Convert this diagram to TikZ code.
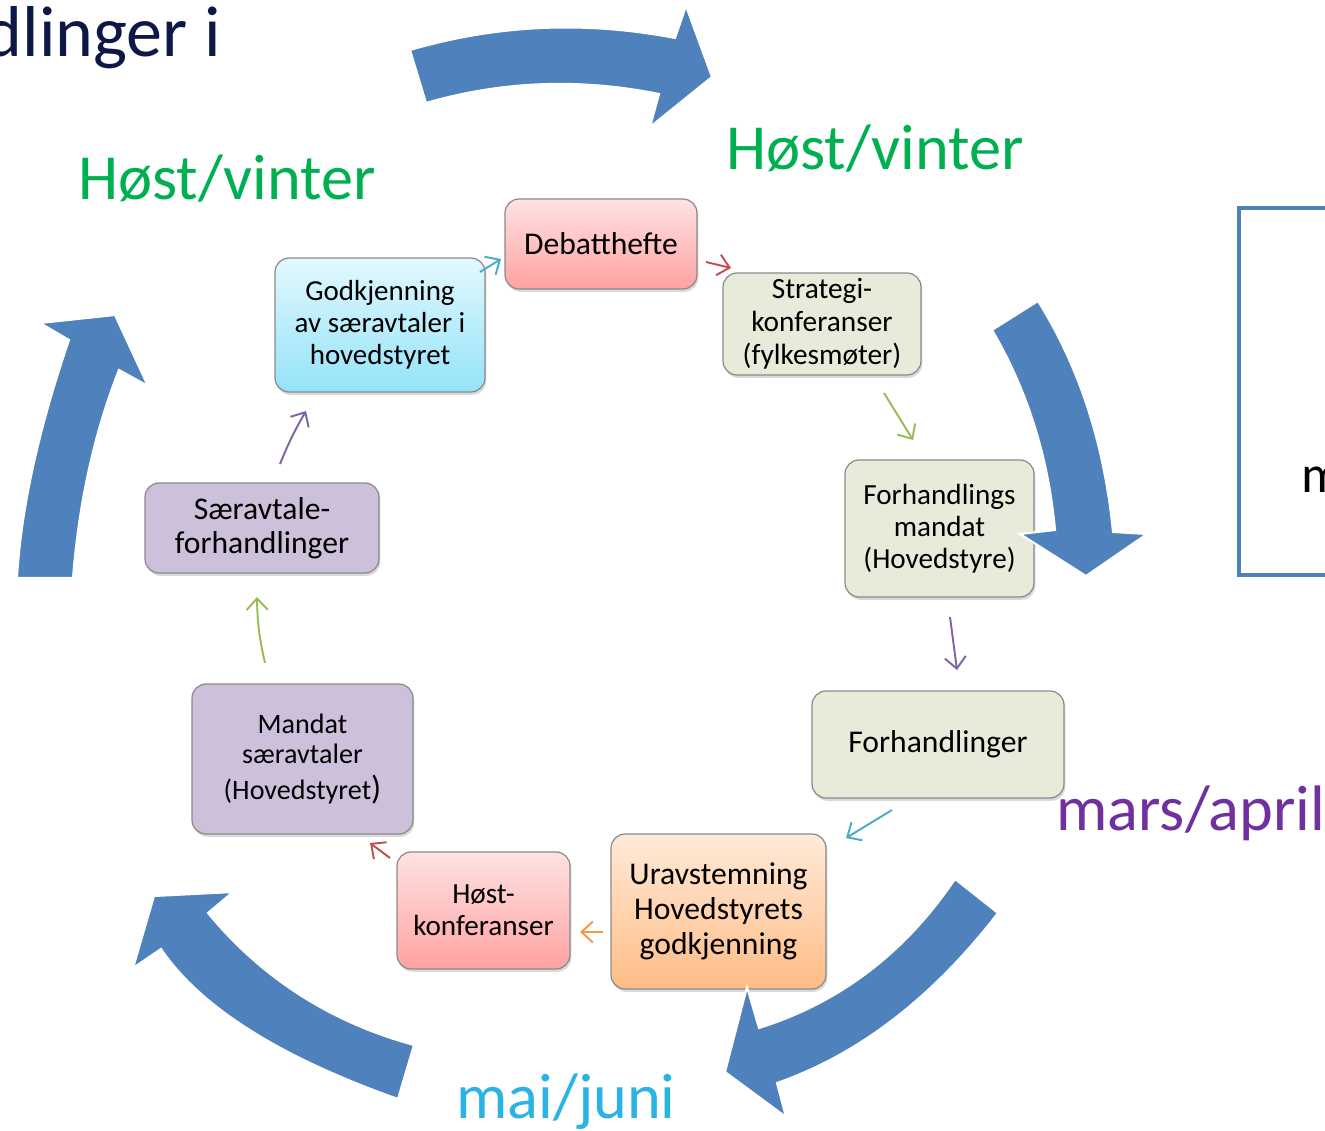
\documentclass[tikz,border=0pt]{standalone}
\usepackage{fontspec}
\setmainfont{Carlito}
\usetikzlibrary{arrows.meta,shadows}
\definecolor{bigblue}{HTML}{4F81BD}
\definecolor{navy}{HTML}{0D1846}
\definecolor{grn}{HTML}{00B050}
\definecolor{purp}{HTML}{7030A0}
\definecolor{sky}{HTML}{2DB2E4}
\definecolor{boxborder}{HTML}{8A8A8A}
\definecolor{pinkT}{HTML}{FFE2E2}
\definecolor{pinkB}{HTML}{FFA2A2}
\definecolor{greenbox}{HTML}{E6ECD9}
\definecolor{orangeT}{HTML}{FFEAD8}
\definecolor{orangeB}{HTML}{FFBC86}
\definecolor{purplebox}{HTML}{CCC0DA}
\definecolor{blueT}{HTML}{E2F8FE}
\definecolor{blueB}{HTML}{94E3F9}
\definecolor{cCyan}{HTML}{4BACC6}
\definecolor{cRed}{HTML}{C0504D}
\definecolor{cGreen}{HTML}{9BBB59}
\definecolor{cPurple}{HTML}{8064A2}
\definecolor{cOrange}{HTML}{F79646}
\begin{document}
\begin{tikzpicture}[x=0.02cm,y=-0.02cm,
  box/.style={draw=boxborder, line width=0.7pt, rounded corners=0.28cm, align=center, inner sep=0pt,
    drop shadow={opacity=0.3, shadow xshift=0.8pt, shadow yshift=-1.6pt}},
  pinkbox/.style={box, top color=pinkT, bottom color=pinkB},
  greenb/.style={box, fill=greenbox},
  orangebox/.style={box, top color=orangeT, bottom color=orangeB},
  purplebx/.style={box, fill=purplebox},
  bluebox/.style={box, top color=blueT, bottom color=blueB},
  conn/.style={line width=1.1pt, -{Straight Barb[length=6.5pt,width=12pt]}},
  bigarrow/.style={fill=bigblue, draw=white, line width=1.2pt},
  season/.style={anchor=base west, inner sep=0pt, font=\fontsize{36.6}{40}\selectfont}
]
\useasboundingbox (0,0) rectangle (1325,1131);

% title fragment
\node[anchor=base east, inner sep=0pt, text=navy, font=\fontsize{41}{45}\selectfont] (title) at (221,57) {dlinger i};

% right frame
\draw[bigblue, line width=2.2pt] (1345,208) -- (1239,208) -- (1239,575) -- (1345,575);
\node[anchor=base west, inner sep=0pt, font=\fontsize{30}{34}\selectfont] (mfrag) at (1301,493) {m};

% season labels
\node[season, text=grn] (hv1) at (78,200) {Høst/vinter};
\node[season, text=grn] (hv2) at (726,170) {Høst/vinter};
\node[season, text=purp] (ma) at (1056,830) {mars/april};
\node[season, text=sky] (mj) at (456,1118) {mai/juni};

% boxes
\node[pinkbox, minimum width=3.84cm, minimum height=1.80cm, font=\fontsize{18}{19}\selectfont] (deb) at (601,244) {Debatthefte};
\node[greenb, minimum width=3.96cm, minimum height=2.04cm, font=\fontsize{16.7}{18.7}\selectfont] (strat) at (822,324) {Strategi-\\konferanser\\(fylkesmøter)};
\node[greenb, minimum width=3.78cm, minimum height=2.74cm, font=\fontsize{16.6}{18.3}\selectfont] (fmand) at (939.5,528.5) {Forhandlings\\mandat\\(Hovedstyre)};
\node[greenb, minimum width=5.04cm, minimum height=2.14cm, font=\fontsize{18}{19}\selectfont] (forh) at (938,744.5) {Forhandlinger};
\node[orangebox, minimum width=4.30cm, minimum height=3.10cm, font=\fontsize{18}{19.8}\selectfont] (urav) at (718.5,911.5) {Uravstemning\\Hovedstyrets\\godkjenning};
\node[pinkbox, minimum width=3.46cm, minimum height=2.34cm, font=\fontsize{16.6}{18}\selectfont] (host) at (483.5,910.5) {Høst-\\konferanser};
\node[purplebx, minimum width=4.42cm, minimum height=3.00cm, font=\fontsize{16}{17.5}\selectfont] (msa) at (302.5,759) {Mandat\\særavtaler\\[3pt](Hovedstyret{\fontsize{19}{19}\selectfont)}};
\node[purplebx, minimum width=4.68cm, minimum height=1.80cm, font=\fontsize{18}{19.3}\selectfont] (saer) at (262,528) {Særavtale-\\forhandlinger};
\node[bluebox, minimum width=4.20cm, minimum height=2.68cm, font=\fontsize{16.5}{18.2}\selectfont] (godk) at (380,325) {Godkjenning\\av særavtaler i\\hovedstyret};

% connector end points
\coordinate (c1s) at (480,272); \coordinate (c1e) at (501,259);
\coordinate (c2s) at (706,262); \coordinate (c2e) at (731,268);
\coordinate (c3s) at (884,393); \coordinate (c3e) at (913,440);
\coordinate (c4s) at (950,617); \coordinate (c4e) at (957,670);
\coordinate (c5s) at (892,810); \coordinate (c5e) at (846,838);
\coordinate (c6s) at (603,932); \coordinate (c6e) at (580,932);
\coordinate (c7s) at (390,858); \coordinate (c7e) at (370,843);
\coordinate (c8s) at (265,663); \coordinate (c8e) at (257,597);
\coordinate (c9s) at (280,464); \coordinate (c9e) at (306,411);

\draw[conn, cCyan] (c1s) -- (c1e);
\draw[conn, cRed] (c2s) -- (c2e);
\draw[conn, cGreen] (c3s) -- (c3e);
\draw[conn, cPurple] (c4s) -- (c4e);
\draw[conn, cCyan] (c5s) -- (c5e);
\draw[conn, cOrange] (c6s) -- (c6e);
\draw[conn, cRed] (c7s) -- (c7e);
\draw[conn, cGreen] (c8s) to[bend left=6] (c8e);
\draw[conn, cPurple] (c9s) to[bend left=4] (c9e);

% big curved arrows
\path[bigarrow] (410,50) .. controls (496.7,24.7) and (585,20.7) .. (675,38) -- (686,6) -- (712,77) -- (650,127) -- (659,94) .. controls (579.7,78) and (502,81) .. (426,103) -- cycle;
\path[bigarrow] (1038,301) .. controls (1079.3,367) and (1104.3,444) .. (1113,532) -- (1147,534) -- (1086,576) -- (1020,534) -- (1055,530) .. controls (1048.3,456.7) and (1027.3,390) .. (992,330) -- cycle;
\path[bigarrow] (998,913) .. controls (932.7,997.7) and (859,1054.3) .. (777,1083) -- (786,1117) -- (725,1072) -- (747,987) -- (759,1028) .. controls (839.7,1002.7) and (905,953) .. (955,879) -- cycle;
\path[bigarrow] (398,1099) .. controls (279.3,1057) and (200.3,1007) .. (161,949) -- (133,968) -- (154,896) -- (233,892) -- (208,913) .. controls (262,978.3) and (330.7,1022.3) .. (414,1045) -- cycle;
\path[bigarrow] (17,578) .. controls (21,509.3) and (38.3,430) .. (69,340) -- (40,323) -- (115,315) -- (148,386) -- (119,370) .. controls (94.3,432.7) and (79,502) .. (73,578) -- cycle;
\end{tikzpicture}
\end{document}
